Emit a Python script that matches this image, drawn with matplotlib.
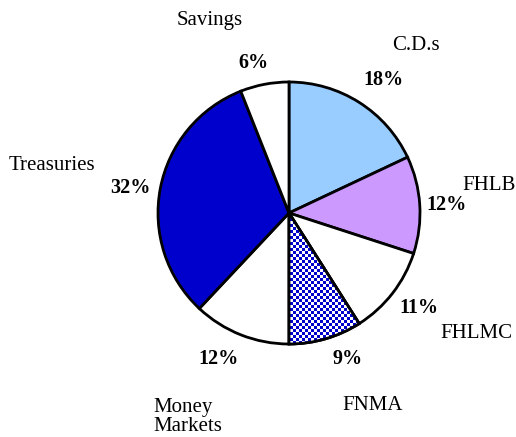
import numpy as np
import matplotlib
matplotlib.use("Agg")
import matplotlib.pyplot as plt
import matplotlib.patches as mpatches
from matplotlib.colors import ListedColormap

categories = ["C.D.s", "FHLB", "FHLMC", "FNMA", "Money\nMarkets", "Treasuries", "Savings"]
values = [18, 12, 11, 9, 12, 32, 6]
pct_labels = ["18%", "12%", "11%", "9%", "12%", "32%", "6%"]

colors = ["#99CCFF", "#CC99FF", "#FFFFFF", "#FFFFFF", "#FFFFFF", "#0000CC", "#FFFFFF"]

# label positions (pixel coords from top-left): name, pct
name_pos = [(416, 45), (489, 186), (476, 334), (373, 406), (153, 417), (52, 165), (210, 20)]
name_ha = ["center", "center", "center", "center", "left", "center", "center"]
pct_pos = [(383, 80), (447, 205), (419, 308), (348, 359), (219, 359), (130, 188), (253, 63)]

W, H = 516, 437
fig = plt.figure(figsize=(W / 100, H / 100), dpi=100)
ax = fig.add_axes([0, 0, 1, 1])

cx, cy, r = 289, H - 213, 131
wedges, _ = ax.pie(values, colors=colors, startangle=90, counterclock=False,
                   center=(cx, cy), radius=r, frame=True,
                   wedgeprops=dict(edgecolor="black", linewidth=2))

# checkerboard fill for FNMA
cell = 3
nx = int(2 * r / cell) + 2
ii, jj = np.meshgrid(np.arange(nx), np.arange(nx))
checker = ((ii + jj) % 2).astype(float)
cmap = ListedColormap(["#FFFFFF", "#0000CC"])
w = wedges[3]
im = ax.imshow(checker, cmap=cmap, extent=(cx - r, cx - r + nx * cell, cy - r, cy - r + nx * cell),
               interpolation="nearest", zorder=w.get_zorder() + 0.1)
im.set_clip_path(w)
outline = mpatches.Wedge((cx, cy), r, w.theta1, w.theta2, facecolor="none",
                         edgecolor="black", linewidth=2, zorder=im.get_zorder() + 0.1)
ax.add_patch(outline)

ax.set_xlim(0, W)
ax.set_ylim(0, H)
ax.set_aspect("equal")
ax.axis("off")

font = "Liberation Serif"
for name, (x, y), ha in zip(categories, name_pos, name_ha):
    ax.text(x, H - y, name, ha=ha, va="center", fontsize=15, family=font, linespacing=1.05)
for p, (x, y) in zip(pct_labels, pct_pos):
    ax.text(x, H - y, p, ha="center", va="center", fontsize=14.5, family=font, fontweight="bold")

fig.savefig("out.png", dpi=100)
